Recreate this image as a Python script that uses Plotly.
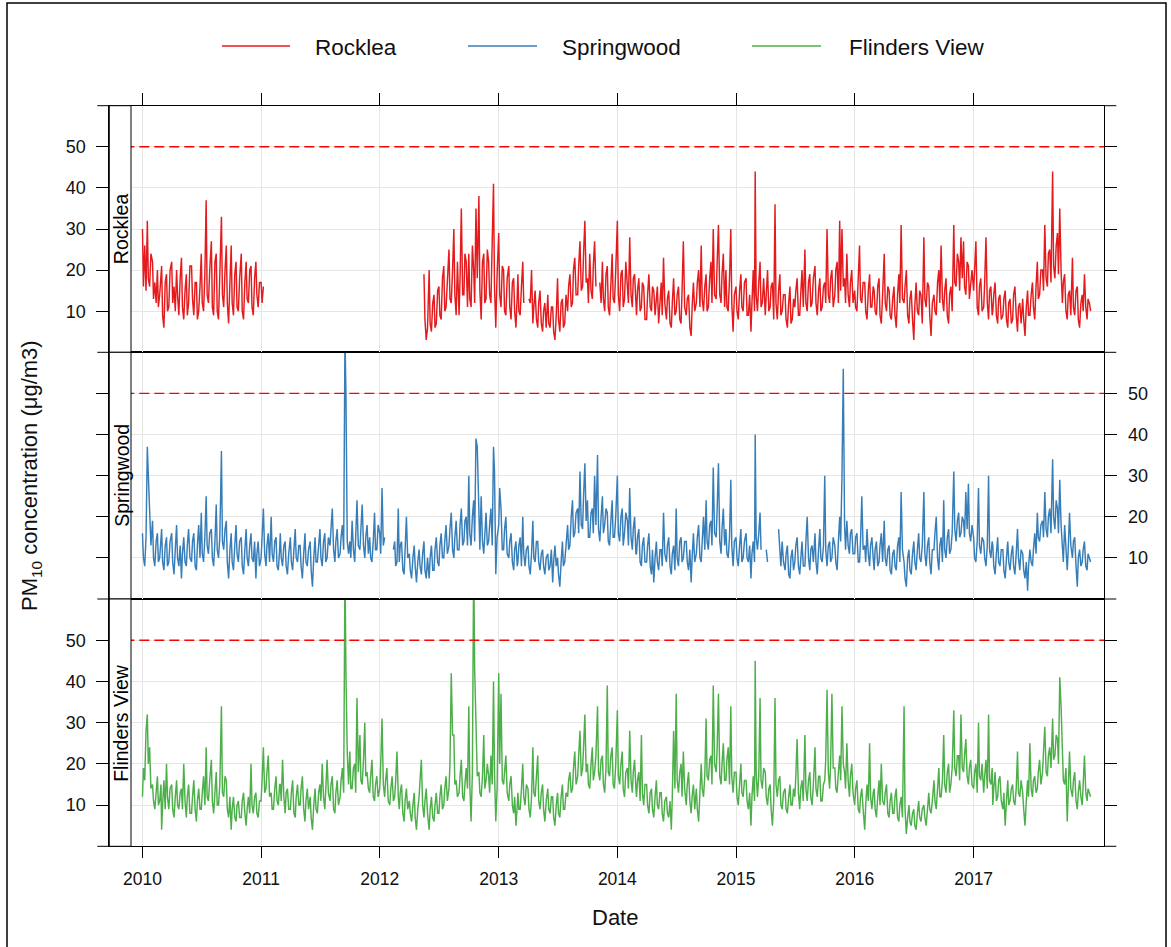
import plotly.graph_objects as go
from datetime import date

# PM10 readings (µg/m3) sampled eight times per month, on the days below.
YEARS = list(range(2010, 2018))
SAMPLE_DAYS = [1, 4, 8, 12, 16, 19, 23, 27]
STATIONS = ["Rocklea", "Springwood", "Flinders View"]
COLORS = ["#E41A1C", "#377EB8", "#4DAF4A"]
YEAR_LABELS = [str(y) for y in YEARS]
Y_TICKS = [10, 20, 30, 40, 50]
Y_LABELS = ["10", "20", "30", "40", "50"]
GUIDELINE = 50
N = None

rocklea_2010 = [
    30, 16, 26, 15, 32, 18, 16, 24,  22, 13, 17, 12, 20, 11, 14, 19,  21, 9, 6, 17, 19, 10, 11, 20,
    22, 12, 16, 10, 20, 14, 9, 18,  23, 11, 8, 15, 19, 9, 12, 21,  21, 13, 9, 17, 17, 8, 10, 16,
    24, 12, 10, 19, 37, 14, 12, 20,  27, 11, 9, 22, 24, 10, 8, 19,  33, 14, 11, 20, 26, 12, 7, 17,
    26, 12, 9, 19, 22, 11, 10, 18,  24, 10, 8, 17, 22, 13, 12, 20,  21, 11, 9, 18, 22, 14, 11, 17]
rocklea_2011 = [17, 12, 16] + [N] * 93
rocklea_2012 = [N] * 32 + [
    N, N, N, N, 19, 8, 3, 6,  20, 7, 5, 12, 14, 6, 7, 15,  16, 9, 8, 18, 21, 10, 11, 17,
    25, 13, 12, 20, 30, 14, 9, 22,  9, 18, 35, 14, 14, 24, 22, 11,  24, 13, 11, 26, 20, 12, 35, 18,
    38, 15, 8, 22, 24, 12, 13, 25,  22, 14, 12, 27, 41, 16, 6, 19]
rocklea_2013 = [
    29, 14, 11, 21, 20, 10, 9, 18,  21, 11, 8, 17, 18, 10, 6, 14,  19, 10, 9, 16, 22, 12, N, N,
    N, 13, 12, 20, 7, 11, 15, 8,  6, 12, 15, 7, 5, 10, 12, 6,  14, 7, 6, 11, 11, 5, 3, 9,
    18, 8, 5, 12, 13, 6, 7, 14,  10, 16, 19, 11, 12, 20, 23, 14,  14, 21, 27, 15, 16, 24, 32, 17,
    18, 12, 24, 15, 13, 21, 27, 16,  N, N, 17, 12, 22, 13, 10, 19,  21, 11, 9, 18, 24, 13, 12, 20]
rocklea_2014 = [
    32, 14, 10, 19, 20, 11, 13, 22,  16, 12, 28, 14, 11, 18, 19, 10,  9, 15, 18, 10, 11, 17, 16, 8,
    8, 14, 19, 11, 10, 16, 15, 9,  12, 16, 7, 11, 17, 9, 23, 12,  8, 13, 15, 7, 6, 12, 18, 9,
    10, 14, 16, 8, 7, 15, 27, 11,  9, 13, 14, 6, 4, 11, 17, 10,  12, 17, 20, 11, 26, 13, 10, 16,
    19, 10, 11, 18, 22, 12, 30, 14,  13, 22, 31, 14, 12, 19, 24, 11,  20, 11, 10, 18, 30, 12, 5, 14]
rocklea_2015 = [
    16, 10, 8, 15, 19, 11, 10, 17,  18, 9, 9, 14, 5, 12, 20, 10,  44, 14, 10, 17, 22, 11, 12, 18,
    9, 14, 20, 10, 11, 16, 17, 8,  36, 12, 8, 15, 19, 9, 10, 14,  14, 8, 6, 12, 16, 7, 8, 13,
    11, 15, 18, 9, 9, 14, 20, 11,  25, 12, 10, 17, 19, 11, 12, 18,  21, 12, 9, 15, 18, 10, 11, 16,
    17, 12, 30, 14, 12, 18, 20, 11,  14, 20, 22, 12, 32, 15, 30, 16,  18, 12, 24, 14, 11, 17, 20, 12]
rocklea_2016 = [
    15, 11, 10, 18, 26, 13, 12, 17,  17, 10, 8, 15, 19, 11, 11, 16,  15, 10, 9, 16, 18, 9, 7, 14,
    24, 12, 10, 16, 15, 9, 8, 13,  16, 9, 6, 14, 19, 12, 31, 13,  12, 16, 20, 9, 7, 13, 15, 8,
    3, 11, 17, 10, 9, 15, 14, 7,  28, 13, 11, 17, 16, 9, 4, 12,  14, 10, 9, 17, 20, 12, 26, 13,
    10, 15, 18, 9, 7, 14, 16, 10,  31, 17, 16, 24, 22, 15, 28, 18,  27, 16, 14, 22, 21, 13, 17, 20]
rocklea_2017 = [
    15, 20, 27, 11, 9, 16, 18, 10,  11, 17, 28, 12, 8, 15, 16, 9,  10, 14, 17, 9, 7, 13, 14, 8,
    9, 13, 15, 8, 6, 12, 13, 7,  8, 14, 16, 9, 5, 11, 12, 7,  13, 8, 4, 11, 15, 9, 9, 14,
    17, 11, 8, 16, 22, 13, 14, 20,  20, 15, 31, 18, 16, 24, 25, 17,  44, 21, 18, 26, 29, 19, 35, 20,
    12, 17, 19, 10, 8, 14, 15, 9,  23, 11, 9, 15, 16, 8, 6, 12,  14, 10, 19, 11, 8, 13, 12, 10]

springwood_2010 = [
    16, 10, 8, 15, 37, 30, 24, 13,  19, 10, 8, 14, 16, 9, 10, 15,  17, 9, 7, 13, 15, 8, 9, 14,
    16, 9, 6, 12, 18, 10, 8, 13,  5, 11, 15, 9, 8, 13, 17, 10,  9, 14, 16, 8, 7, 13, 18, 10,
    21, 11, 9, 15, 25, 13, 11, 16,  17, 10, 8, 14, 23, 12, 10, 15,  36, 14, 12, 17, 19, 9, 5, 12,
    16, 9, 7, 13, 18, 11, 9, 14,  15, 8, 6, 12, 17, 10, 8, 13,  16, 10, 9, 14, 5, 11, 14, 8]
springwood_2011 = [
    10, 15, 22, 11, 8, 13, 16, 9,  20, 11, 9, 14, 15, 8, 7, 12,  16, 10, 8, 13, 14, 8, 6, 11,
    15, 9, 7, 12, 17, 10, 9, 13,  13, 8, 5, 11, 16, 9, 8, 12,  14, 7, 3, 10, 15, 9, 9, 13,
    17, 10, 8, 14, 16, 9, 10, 15,  13, 17, 22, 12, 9, 14, 17, 10,  11, 15, 18, 12, 64, 50, 14, 11,
    14, 10, 19, 12, 9, 15, 24, 13,  12, 17, 23, 13, 10, 15, 18, 11,  15, 10, 9, 14, 21, 12, 12, 18]
springwood_2012 = [
    16, 11, 27, 13, 15, N, N, N,  N, N, N, 12, 14, 8, 9, 22,  9, 13, 14, 7, 6, 12, 20, 10,
    11, 7, 5, 10, 13, 8, 4, 9,  12, 8, 6, 11, 14, 7, 5, 10,  5, 10, 13, 7, 7, 12, 15, 9,
    8, 13, 16, 10, 10, 14, 18, 11,  13, 17, 21, 12, 10, 15, 19, 12,  12, 18, 22, 13, 14, 19, 20, 13,
    30, 16, 13, 20, 24, 14, 39, 37,  17, 12, 25, 14, 11, 16, 21, 13,  14, 18, 22, 13, 37, 31, 6, 15]
springwood_2013 = [
    18, 27, 22, 12, 12, 17, 20, 11,  10, 14, 16, 9, 7, 12, 14, 8,  9, 13, 15, 8, 20, 11, 8, 12,
    13, 8, 6, 11, 19, 10, 9, 14,  14, 9, 7, 11, 12, 8, 6, 10,  11, 7, 8, 12, 4, 9, 13, 8,
    10, 6, 3, 9, 14, 8, 9, 13,  18, 12, 13, 20, 24, 15, 16, 21,  22, 16, 31, 18, 17, 25, 33, 19,
    24, 15, 15, 21, 22, 16, 30, 18,  35, 17, 14, 20, 25, 16, 18, 22,  21, 14, 13, 19, 24, 15, 15, 20]
springwood_2014 = [
    30, 16, 14, 20, 22, 13, 16, 21,  19, 13, 27, 15, 12, 17, 20, 11,  11, 15, 17, 9, 8, 13, 15, 9,
    9, 13, 16, 8, 6, 12, 4, 10,  14, 9, 7, 12, 12, 8, 21, 11,  9, 13, 15, 8, 6, 11, 13, 7,
    22, 10, 8, 14, 15, 9, 10, 14,  14, 9, 7, 12, 4, 10, 16, 9,  11, 15, 18, 10, 9, 14, 20, 12,
    24, 14, 12, 18, 19, 13, 32, 16,  15, 22, 33, 14, 11, 17, 22, 13,  17, 11, 10, 15, 29, 13, 8, 14]
springwood_2015 = [
    15, 10, 8, 13, 17, 9, 10, 14,  16, 10, 9, 13, 5, 11, 14, 9,  40, 15, 12, 16, 21, 12, N, N,
    N, 12, 9, N, N, N, N, N,  N, N, N, 17, 11, 8, 14, 9,  7, 11, 13, 6, 5, 10, 12, 7,
    9, 13, 15, 8, 6, 11, 14, 8,  8, 14, 20, 10, 7, 12, 13, 9,  16, 9, 6, 12, 17, 10, 9, 13,
    30, 12, 8, 13, 14, 9, 10, 15,  13, 9, 7, 14, 20, 14, 30, 56,  18, 12, 19, 13, 11, 16, 17, 11]
springwood_2016 = [
    11, 15, 16, 9, 9, 14, 25, 12,  13, 9, 17, 11, 8, 13, 15, 10,  7, 12, 14, 8, 9, 13, 16, 9,
    19, 10, 8, 12, 13, 7, 6, 11,  12, 8, 7, 13, 15, 9, 26, 12,  9, 5, 3, 10, 12, 7, 6, 11,
    14, 9, 7, 12, 16, 10, 9, 13,  26, 11, 8, 13, 15, 9, 6, 12,  12, 16, 20, 10, 7, 13, 15, 9,
    24, 12, 10, 15, 17, 11, 12, 16,  31, 17, 14, 19, 21, 15, 16, 20,  19, 15, 26, 17, 28, 16, 14, 18]
springwood_2017 = [
    15, 10, 9, 14, 27, 13, 11, 15,  14, 10, 8, 13, 30, 12, 10, 14,  13, 8, 6, 11, 15, 9, 8, 12,
    12, 7, 5, 10, 14, 9, 7, 11,  13, 8, 6, 11, 17, 10, 7, 12,  11, 7, 5, 9, 2, 8, 12, 9,
    8, 12, 16, 11, 21, 15, 14, 18,  19, 15, 26, 17, 15, 20, 22, 16,  34, 20, 17, 24, 22, 16, 29, 18,
    13, 9, 18, 11, 7, 12, 21, 13,  10, 14, 15, 8, 3, 10, 12, 8,  9, 12, 14, 8, 7, 11, 10, 9]

flinders_2010 = [
    12, 19, 16, 28, 32, 20, 24, 14,  15, 11, 9, 14, 17, 10, 11, 15,  4, 10, 16, 9, 20, 12, 9, 14,
    15, 9, 7, 12, 16, 10, 9, 13,  14, 9, 20, 11, 7, 12, 15, 8,  8, 12, 16, 9, 6, 11, 14, 9,
    9, 13, 17, 10, 24, 12, 11, 16,  21, 11, 8, 13, 18, 10, 10, 15,  34, 13, 12, 17, 16, 9, 7, 12,
    4, 9, 12, 7, 6, 10, 11, 7,  7, 11, 13, 8, 5, 9, 12, 8,  20, 10, 8, 12, 13, 8, 7, 11]
flinders_2011 = [
    11, 16, 24, 13, 14, 18, 22, 12,  13, 9, 9, 14, 17, 11, 10, 15,  15, 11, 21, 12, 8, 13, 14, 9,
    9, 13, 16, 8, 7, 12, 15, 10,  10, 14, 17, 9, 6, 11, 14, 9,  12, 7, 4, 10, 14, 9, 8, 13,
    15, 11, 20, 12, 9, 14, 21, 13,  11, 15, 17, 9, 8, 13, 16, 10,  12, 16, 19, 13, 68, 42, 23, 15,
    23, 14, 14, 19, 20, 13, 36, 18,  27, 16, 15, 21, 30, 17, 18, 14,  13, 17, 21, 12, 11, 15, 17, 12]
flinders_2012 = [
    14, 20, 31, 15, 12, 16, 19, 11,  10, 14, 17, 11, 12, 16, 23, 12,  9, 13, 15, 8, 6, 11, 14, 9,
    11, 8, 6, 10, 13, 7, 4, 9,  12, 16, 21, 10, 7, 11, 14, 8,  4, 9, 12, 7, 6, 10, 13, 8,
    8, 12, 15, 9, 10, 14, 17, 11,  14, 20, 42, 27, 27, 15, 16, 12,  13, 17, 21, 12, 11, 15, 19, 14,
    34, 15, 6, 18, 70, 43, 31, 17,  18, 13, 12, 17, 27, 14, 16, 20,  17, 13, 22, 15, 40, 18, 6, 14]
flinders_2013 = [
    42, 20, 37, 16, 15, 19, 22, 13,  11, 15, 17, 10, 8, 12, 5, 10,  13, 9, 9, 14, 20, 12, 10, 15,
    14, 9, 7, 12, 24, 13, 12, 17,  22, 11, 9, 13, 15, 9, 6, 11,  14, 9, 8, 12, 12, 7, 5, 10,
    13, 8, 7, 12, 15, 9, 9, 13,  12, 16, 18, 13, 14, 19, 23, 15,  17, 22, 28, 17, 19, 24, 32, 18,
    20, 15, 14, 20, 24, 16, 18, 22,  34, 18, 16, 21, 22, 15, 13, 19,  39, 18, 17, 22, 24, 15, 14, 20]
flinders_2014 = [
    33, 17, 15, 20, 23, 14, 12, 18,  19, 14, 28, 16, 13, 18, 21, 14,  12, 16, 18, 11, 27, 13, 10, 15,
    15, 10, 8, 13, 14, 9, 7, 12,  16, 10, 9, 13, 13, 8, 6, 11,  12, 8, 7, 11, 4, 12, 28, 14,
    37, 16, 13, 18, 20, 12, 23, 14,  10, 15, 18, 11, 8, 12, 15, 9,  14, 9, 6, 13, 20, 14, 12, 17,
    31, 17, 16, 21, 22, 15, 39, 20,  18, 24, 37, 17, 15, 20, 25, 16,  16, 21, 24, 15, 34, 17, 13, 18]
flinders_2015 = [
    18, 12, 10, 15, 20, 13, 12, 16,  16, 11, 9, 13, 5, 12, 17, 11,  45, 18, 12, 17, 36, 16, 14, 19,
    18, 12, 10, 14, 15, 9, 5, 11,  36, 15, 12, 16, 17, 10, 9, 13,  14, 9, 8, 12, 15, 10, 10, 14,
    12, 17, 26, 13, 9, 14, 16, 11,  27, 14, 11, 16, 18, 12, 10, 15,  24, 14, 12, 17, 17, 11, 11, 15,
    16, 21, 38, 18, 14, 20, 37, 19,  19, 14, 13, 18, 22, 16, 34, 20,  18, 14, 25, 16, 12, 17, 20, 13]
flinders_2016 = [
    10, 14, 16, 9, 8, 12, 14, 9,  4, 10, 15, 11, 25, 12, 9, 13,  14, 9, 7, 12, 16, 10, 20, 11,
    10, 13, 15, 8, 7, 11, 13, 8,  8, 12, 14, 7, 6, 10, 12, 7,  34, 9, 3, 7, 10, 6, 5, 8,
    9, 5, 4, 8, 11, 7, 6, 9,  10, 7, 5, 9, 13, 9, 8, 11,  16, 11, 9, 14, 19, 12, 12, 16,
    27, 15, 13, 18, 20, 13, 15, 19,  33, 19, 17, 22, 22, 16, 32, 19,  18, 22, 26, 17, 15, 19, 21, 15]
flinders_2017 = [
    14, 18, 20, 13, 30, 17, 16, 20,  13, 17, 21, 14, 32, 16, 15, 19,  10, 14, 18, 11, 12, 16, 17, 11,
    9, 13, 5, 11, 16, 10, 11, 14,  15, 11, 10, 14, 23, 13, 12, 16,  13, 9, 5, 11, 16, 12, 25, 14,
    12, 16, 17, 13, 14, 18, 21, 15,  18, 23, 29, 18, 17, 22, 24, 19,  31, 21, 22, 27, 26, 20, 41, 34,
    20, 16, 15, 19, 6, 13, 23, 14,  12, 16, 18, 11, 9, 13, 16, 12,  10, 15, 22, 13, 11, 14, 13, 12]

rocklea = (rocklea_2010 + rocklea_2011 + rocklea_2012 + rocklea_2013 +
           rocklea_2014 + rocklea_2015 + rocklea_2016 + rocklea_2017)
springwood = (springwood_2010 + springwood_2011 + springwood_2012 + springwood_2013 +
              springwood_2014 + springwood_2015 + springwood_2016 + springwood_2017)
flinders = (flinders_2010 + flinders_2011 + flinders_2012 + flinders_2013 +
            flinders_2014 + flinders_2015 + flinders_2016 + flinders_2017)
SERIES = [rocklea, springwood, flinders]

dates = [date(y, m, d).isoformat() for y in YEARS for m in range(1, 13) for d in SAMPLE_DAYS]
year_ticks = [date(y, 1, 1).isoformat() for y in YEARS]

# ---- page geometry (pixels) ----
W, H = 1171, 947
def fx(x):
    return x / W
def fy(y):
    return 1 - y / H

AXIS_X = 109.3      # left axis line (strip's left edge)
STRIP_R = 131.0     # strip's right edge
RIGHT_X = 1104.3
TICK = 12
PANEL_Y = [105.7, 352.3, 599.0, 846.3]
X_RANGE = ["2009-09-21", "2018-02-07"]

FONT = "Liberation Sans, Arial, sans-serif"
TXT = "#111111"
GRID = "#E6E6E6"

fig = go.Figure()

# panel i (0 = top): left y-axis i+1, right y-axis i+4, x-axis 3-i
xnames = ["x3", "x2", "x"]
ynames = ["y", "y2", "y3"]
for i, (name, col, vals) in enumerate(zip(STATIONS, COLORS, SERIES)):
    fig.add_trace(go.Scatter(
        x=dates, y=vals, mode="lines", name=name, showlegend=False,
        line=dict(color=col, width=1.45), connectgaps=False,
        xaxis=xnames[i], yaxis=ynames[i], hoverinfo="x+y",
    ))
    # empty companion trace so the right-hand axis of each panel is rendered
    fig.add_trace(go.Scatter(x=[], y=[], mode="lines", showlegend=False, hoverinfo="skip",
                             xaxis=xnames[i], yaxis=f"y{i + 4}"))

layout = dict(
    width=W, height=H, margin=dict(l=0, r=0, t=0, b=0),
    paper_bgcolor="white", plot_bgcolor="white", showlegend=False,
    font=dict(family=FONT, color=TXT),
)

xbase = dict(domain=[fx(AXIS_X), fx(RIGHT_X)], range=X_RANGE, type="date",
             tickvals=year_ticks, ticktext=YEAR_LABELS,
             showline=True, linecolor="black", linewidth=1, mirror=True,
             showgrid=True, gridcolor=GRID, gridwidth=1, zeroline=False,
             tickcolor="black", ticklen=11, tickfont=dict(size=17.5, color=TXT))
layout["xaxis"] = dict(xbase, anchor="y3", side="bottom", ticks="outside", showticklabels=True,
                       ticklabelstandoff=6)
layout["xaxis2"] = dict(xbase, anchor="y2", matches="x", ticks="", showticklabels=False)
layout["xaxis3"] = dict(xbase, anchor="y", matches="x", side="top", ticks="outside", ticklen=TICK,
                        showticklabels=False)

ybase = dict(range=[0, 60], tickvals=Y_TICKS, ticktext=Y_LABELS, zeroline=False,
             ticks="outside", ticklen=TICK, tickcolor="black",
             tickfont=dict(size=18, color=TXT), ticklabelstandoff=7)
for i in range(3):
    dom = [fy(PANEL_Y[i + 1]), fy(PANEL_Y[i])]
    left_key = "yaxis" if i == 0 else f"yaxis{i + 1}"
    layout[left_key] = dict(ybase, domain=dom, anchor=xnames[i], side="left",
                            showticklabels=(i != 1),
                            showline=True, linecolor="black", mirror=True,
                            showgrid=True, gridcolor=GRID)
    layout[f"yaxis{i + 4}"] = dict(ybase, domain=dom, anchor=xnames[i], side="right",
                                   overlaying=ynames[i], showticklabels=(i == 1),
                                   showline=False, showgrid=False)

fig.update_layout(**layout)

shapes = []
annotations = []
for i, name in enumerate(STATIONS):
    # 24-hour guideline
    shapes.append(dict(type="line", xref=f"{xnames[i]} domain", yref=ynames[i], x0=0, x1=1,
                       y0=GUIDELINE, y1=GUIDELINE, layer="above",
                       line=dict(color="#FF0000", width=1.4, dash="10px,5px")))
    # left strip with the station name
    y0, y1 = fy(PANEL_Y[i + 1]), fy(PANEL_Y[i])
    shapes.append(dict(type="rect", xref="paper", yref="paper", x0=fx(AXIS_X), x1=fx(STRIP_R),
                       y0=y0, y1=y1, fillcolor="white", layer="above",
                       line=dict(color="black", width=1)))
    annotations.append(dict(xref="paper", yref="paper", x=fx((AXIS_X + STRIP_R) / 2 + 1),
                            y=(y0 + y1) / 2, text=name, textangle=-90, showarrow=False,
                            font=dict(size=19.5, color="black", family=FONT),
                            xanchor="center", yanchor="middle"))

# ticks at the panel boundaries (0 / 60) on both sides
for yb in PANEL_Y:
    for xa, xb in ((AXIS_X - TICK, AXIS_X), (RIGHT_X, RIGHT_X + TICK)):
        shapes.append(dict(type="line", xref="paper", yref="paper", x0=fx(xa), x1=fx(xb),
                           y0=fy(yb), y1=fy(yb), line=dict(color="black", width=1)))

# key at the top
legend_items = [(222, 290, 313), (468, 537, 560), (752, 821, 847)]
for (x0, x1, tx), name, col in zip(legend_items, STATIONS, COLORS):
    shapes.append(dict(type="line", xref="paper", yref="paper", x0=fx(x0), x1=fx(x1),
                       y0=fy(46), y1=fy(46), line=dict(color=col, width=1.5)))
    annotations.append(dict(xref="paper", yref="paper", x=fx(tx), y=fy(48), text=name,
                            showarrow=False, xanchor="left", yanchor="middle",
                            font=dict(size=22.5, color=TXT, family=FONT)))

# axis titles
annotations.append(dict(xref="paper", yref="paper", x=fx(615), y=fy(917), text="Date",
                        showarrow=False, xanchor="center", yanchor="middle",
                        font=dict(size=22, color=TXT, family=FONT)))
annotations.append(dict(xref="paper", yref="paper", x=fx(31), y=fy(476),
                        text="PM<sub>10</sub> concentration (μg/m3)", textangle=-90,
                        showarrow=False, xanchor="center", yanchor="middle",
                        font=dict(size=22, color=TXT, family=FONT)))

# outer frame
shapes.append(dict(type="rect", xref="paper", yref="paper", x0=fx(7), x1=fx(1166), y0=fy(952), y1=fy(3),
                   line=dict(color="black", width=1.5), fillcolor="rgba(0,0,0,0)", layer="above"))

fig.update_layout(shapes=shapes, annotations=annotations)
fig.write_html("out.html")
